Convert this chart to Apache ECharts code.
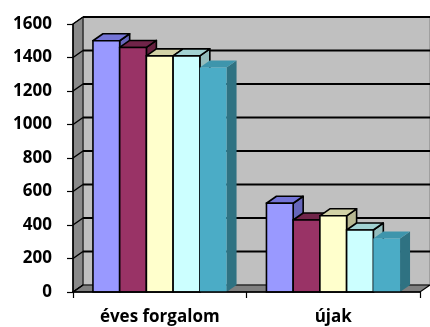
<!DOCTYPE html>
<html>
<head>
<meta charset="utf-8">
<style>
  html, body { margin: 0; padding: 0; background: #fff; }
  #chart { width: 430px; height: 327px; }
</style>
<script src="https://cdn.jsdelivr.net/npm/echarts@6/dist/echarts.min.js"></script>
</head>
<body>
<div id="chart"></div>
<script>
// Categories and values
const categories = ['éves forgalom', 'újak'];
const sorozat1 = [1500, 530];
const sorozat2 = [1460, 430];
const sorozat3 = [1410, 455];
const sorozat4 = [1410, 370];
const sorozat5 = [1340, 320];
const yTicks = [0, 200, 400, 600, 800, 1000, 1200, 1400, 1600];

// Depth of the pseudo-3D box (pixels)
const DX = 10, DY = 7;

const barStyles = [
  { front: '#9999FF', top: '#7474D6', side: '#6666BB', stroke: '#000' },
  { front: '#993366', top: '#702449', side: '#66203F', stroke: '#000' },
  { front: '#FFFFCC', top: '#D2D2A6', side: '#B8B892', stroke: '#000' },
  { front: '#CCFFFF', top: '#A2D2D2', side: '#94BDBD', stroke: '#000' },
  { front: '#4BACC6', top: '#3E95AC', side: '#2F7282', stroke: null }
];
const seriesValues = [sorozat1, sorozat2, sorozat3, sorozat4, sorozat5];

const chart = echarts.init(document.getElementById('chart'), null, { renderer: 'canvas' });

// Walls, floor and gridlines of the 3D box
function renderWalls(params, api) {
  const cs = params.coordSys;
  const xL = cs.x, xR = cs.x + cs.width;
  const y0 = api.coord([0, 0])[1];
  const yTop = api.coord([0, 1600])[1];
  const children = [];
  // back wall
  children.push({ type: 'rect', shape: { x: xL + DX, y: yTop - DY, width: xR - xL, height: y0 - yTop },
    style: { fill: '#C0C0C0', stroke: '#808080', lineWidth: 1 } });
  // side wall
  children.push({ type: 'polygon', shape: { points: [[xL, y0], [xL, yTop], [xL + DX, yTop - DY], [xL + DX, y0 - DY]] },
    style: { fill: '#8A8A8A', stroke: '#000', lineWidth: 1 } });
  // floor
  children.push({ type: 'polygon', shape: { points: [[xL, y0], [xR, y0], [xR + DX, y0 - DY], [xL + DX, y0 - DY]] },
    style: { fill: '#808080', stroke: '#000', lineWidth: 1.2 } });
  // gridlines on back wall and side wall
  yTicks.forEach(function (v) {
    const y = api.coord([0, v])[1];
    if (v > 0) {
      children.push({ type: 'line', shape: { x1: xL + DX, y1: y - DY, x2: xR + DX, y2: y - DY },
        style: { stroke: '#000', lineWidth: 2 } });
    }
    children.push({ type: 'line', shape: { x1: xL, y1: y, x2: xL + DX, y2: y - DY },
      style: { stroke: '#000', lineWidth: 1.5 } });
  });
  return { type: 'group', children: children };
}

function makeBarRenderer(idx) {
  const st = barStyles[idx];
  return function (params, api) {
    const cat = api.value(0), val = api.value(1);
    const base = api.coord([cat, 0]);
    const top = api.coord([cat, val]);
    const band = api.size([1, 0])[0];
    const groupW = band * 0.77;
    const w = groupW / 5;
    const x0 = base[0] - groupW / 2 + idx * w;
    const x1 = x0 + w;
    const yb = base[1], yt = top[1];
    const lw = st.stroke ? 1.6 : 0;
    const stroke = st.stroke || null;
    return {
      type: 'group',
      children: [
        { type: 'polygon', shape: { points: [[x1, yt], [x1 + DX, yt - DY], [x1 + DX, yb - DY], [x1, yb]] },
          style: { fill: st.side, stroke: stroke, lineWidth: lw, lineJoin: 'round' } },
        { type: 'polygon', shape: { points: [[x0, yt], [x0 + DX, yt - DY], [x1 + DX, yt - DY], [x1, yt]] },
          style: { fill: st.top, stroke: stroke, lineWidth: lw, lineJoin: 'round' } },
        { type: 'rect', shape: { x: x0, y: yt, width: w, height: yb - yt },
          style: { fill: st.front, stroke: stroke, lineWidth: lw } }
      ]
    };
  };
}

const series = [{
  type: 'custom',
  name: 'walls',
  renderItem: renderWalls,
  data: [[0, 0]],
  clip: false,
  silent: true,
  z: 1
}];
seriesValues.forEach(function (vals, i) {
  series.push({
    type: 'custom',
    name: 'Sorozat' + (i + 1),
    renderItem: makeBarRenderer(i),
    data: vals.map(function (v, c) { return [c, v]; }),
    encode: { x: 0, y: 1 },
    clip: false,
    z: 2 + i
  });
});

const labelFont = { fontFamily: 'Open Sans', fontWeight: 'bold', fontSize: 17, color: '#000' };

chart.setOption({
  animation: false,
  backgroundColor: '#fff',
  grid: { left: 73, right: 10, top: 24, bottom: 35 },
  xAxis: {
    type: 'category',
    data: categories,
    boundaryGap: true,
    z: 10,
    axisLine: { lineStyle: { color: '#000', width: 1.5 } },
    axisTick: { show: true, length: 6, lineStyle: { color: '#000', width: 1.2 } },
    axisLabel: Object.assign({ margin: 17 }, labelFont),
    splitLine: { show: false }
  },
  yAxis: {
    type: 'value',
    min: 0, max: 1600, interval: 200,
    z: 10,
    axisLine: { show: true, lineStyle: { color: '#000', width: 1.5 } },
    axisTick: { show: true, length: 6, lineStyle: { color: '#000', width: 1.2 } },
    axisLabel: Object.assign({ margin: 21, formatter: function (v) { return String(v); } }, labelFont),
    splitLine: { show: false }
  },
  series: series
});
</script>
</body>
</html>
